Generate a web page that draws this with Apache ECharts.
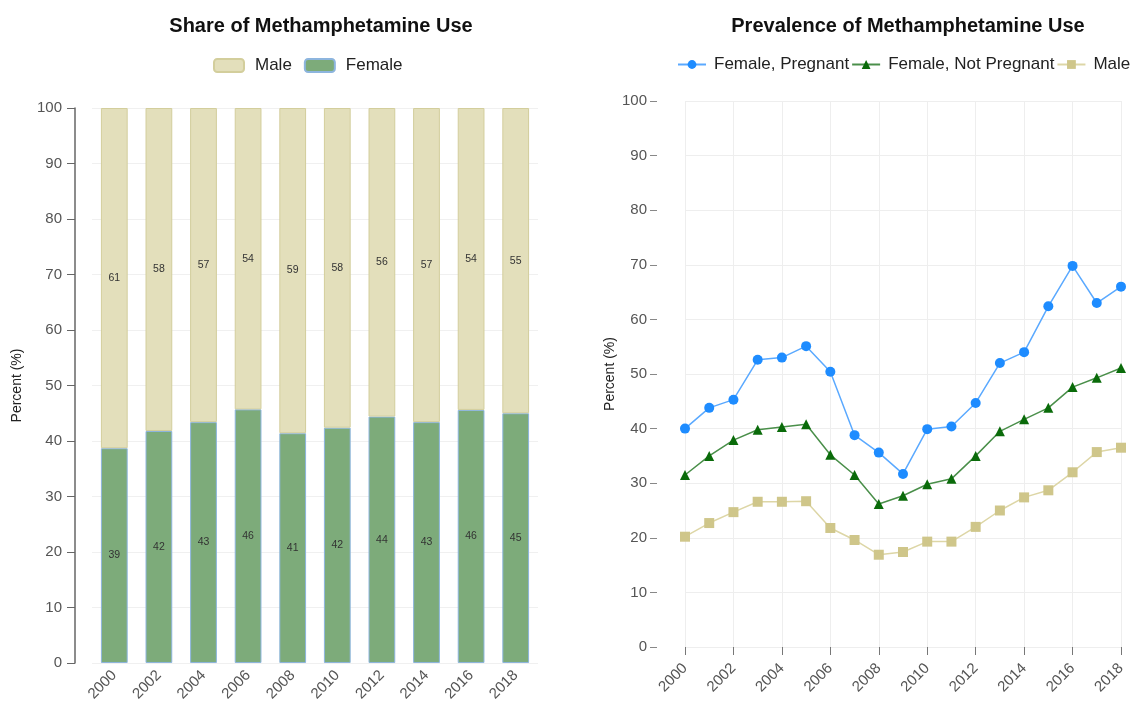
<!DOCTYPE html>
<html><head><meta charset="utf-8">
<script src="https://cdn.jsdelivr.net/npm/echarts@6/dist/echarts.min.js"></script>
<style>html,body{margin:0;padding:0;background:#fff}#c{width:1138px;height:704px}</style>
</head><body><div id="c"></div>
<script>
const barYears = ['2000','2002','2004','2006','2008','2010','2012','2014','2016','2018'];
const shareFemale = [38.7, 41.8, 43.4, 45.7, 41.4, 42.4, 44.4, 43.4, 45.6, 45.0];
const shareMale = [61.3, 58.2, 56.6, 54.3, 58.6, 57.6, 55.6, 56.6, 54.4, 55.0];
const lineYears = ['2000','2001','2002','2003','2004','2005','2006','2007','2008','2009','2010','2011','2012','2013','2014','2015','2016','2017','2018'];
const femalePregnant = [40.0, 43.8, 45.3, 52.6, 53.0, 55.1, 50.4, 38.8, 35.6, 31.7, 39.9, 40.4, 44.7, 52.0, 54.0, 62.4, 69.8, 63.0, 66.0];
const femaleNotPregnant = [31.5, 35.0, 37.9, 39.8, 40.3, 40.8, 35.2, 31.5, 26.2, 27.7, 29.8, 30.8, 35.0, 39.5, 41.7, 43.8, 47.6, 49.3, 51.1];
const maleUse = [20.2, 22.7, 24.7, 26.6, 26.6, 26.7, 21.8, 19.6, 16.9, 17.4, 19.3, 19.3, 22.0, 25.0, 27.4, 28.7, 32.0, 35.7, 36.5];

const FONT = 'Liberation Sans, Arial, sans-serif';
const chart = echarts.init(document.getElementById('c'));
const lbl = {show:true, position:'inside', fontSize:10.5, color:'#333', fontFamily:FONT, formatter:p=>Math.round(p.value)};
chart.setOption({
  animation:false,
  textStyle:{fontFamily:FONT},
  title:[
    {text:'Share of Methamphetamine Use', left:316, top:11, textAlign:'center', textStyle:{fontSize:20, fontWeight:'bold', color:'#111', fontFamily:FONT}},
    {text:'Prevalence of Methamphetamine Use', left:903, top:11, textAlign:'center', textStyle:{fontSize:20, fontWeight:'bold', color:'#111', fontFamily:FONT}}
  ],
  legend:[
    {data:['Male','Female'], left:208, top:52, itemWidth:30, itemHeight:13, itemGap:12,
     textStyle:{fontSize:17, color:'#222', padding:[0,0,0,6]}},
    {data:['Female, Pregnant','Female, Not Pregnant','Male2'], left:677, top:56, width:470, padding:0, itemWidth:28, itemHeight:11, itemGap:2,
     formatter:n=>n==='Male2'?'Male':n, textStyle:{fontSize:17, color:'#222', padding:[0,0,0,3]}}
  ],
  grid:[
    {left:92, right:600, top:108, bottom:39},
    {left:685, right:17, top:101, bottom:57}
  ],
  xAxis:[
    {type:'category', gridIndex:0, data:barYears, axisLine:{show:false}, axisTick:{show:false},
     axisLabel:{rotate:45, fontSize:15, color:'#555', margin:10}},
    {type:'category', gridIndex:1, data:lineYears, boundaryGap:false, offset:13,
     axisLine:{show:false}, axisTick:{show:true, interval:1, length:8, lineStyle:{color:'#777'}},
     axisLabel:{rotate:45, interval:1, fontSize:15, color:'#555', margin:6},
     splitLine:{show:true, interval:1, lineStyle:{color:'#eeeeee'}}}
  ],
  yAxis:[
    {type:'value', gridIndex:0, min:0, max:100, interval:10, offset:17,
     name:'Percent (%)', nameLocation:'middle', nameGap:51, nameTextStyle:{fontSize:14, color:'#222'},
     axisLine:{show:true, lineStyle:{color:'#666', width:1.5}}, axisTick:{show:true, length:8, lineStyle:{color:'#666'}},
     axisLabel:{fontSize:15, color:'#555', margin:13}, splitLine:{lineStyle:{color:'#f0f0f0'}}},
    {type:'value', gridIndex:1, min:0, max:100, interval:10, offset:28,
     name:'Percent (%)', nameLocation:'middle', nameGap:40, nameTextStyle:{fontSize:14, color:'#222'},
     axisLine:{show:false}, axisTick:{show:true, length:7, lineStyle:{color:'#888'}},
     axisLabel:{fontSize:15, color:'#555', margin:10}, splitLine:{lineStyle:{color:'#eeeeee'}}}
  ],
  series:[
    {name:'Female', type:'bar', stack:'s', xAxisIndex:0, yAxisIndex:0, data:shareFemale, barWidth:'60%',
     itemStyle:{color:'#7dab7a', borderColor:'#8db5de', borderWidth:1}, label:lbl},
    {name:'Male', type:'bar', stack:'s', xAxisIndex:0, yAxisIndex:0, data:shareMale, barWidth:'60%',
     itemStyle:{color:'#e3dfbb', borderColor:'#d3ce9c', borderWidth:1}, label:lbl},
    {name:'Female, Pregnant', type:'line', xAxisIndex:1, yAxisIndex:1, data:femalePregnant,
     symbol:'circle', symbolSize:10, itemStyle:{color:'#1e8cff'}, lineStyle:{color:'#5aa9ff', width:1.5}},
    {name:'Female, Not Pregnant', type:'line', xAxisIndex:1, yAxisIndex:1, data:femaleNotPregnant,
     symbol:'triangle', symbolSize:10, itemStyle:{color:'#0a6b0a'}, lineStyle:{color:'#4a8f4a', width:1.5}},
    {name:'Male2', type:'line', xAxisIndex:1, yAxisIndex:1, data:maleUse,
     symbol:'rect', symbolSize:10, itemStyle:{color:'#cfc68a'}, lineStyle:{color:'#ddd6a6', width:1.5}}
  ]
});
</script></body></html>
